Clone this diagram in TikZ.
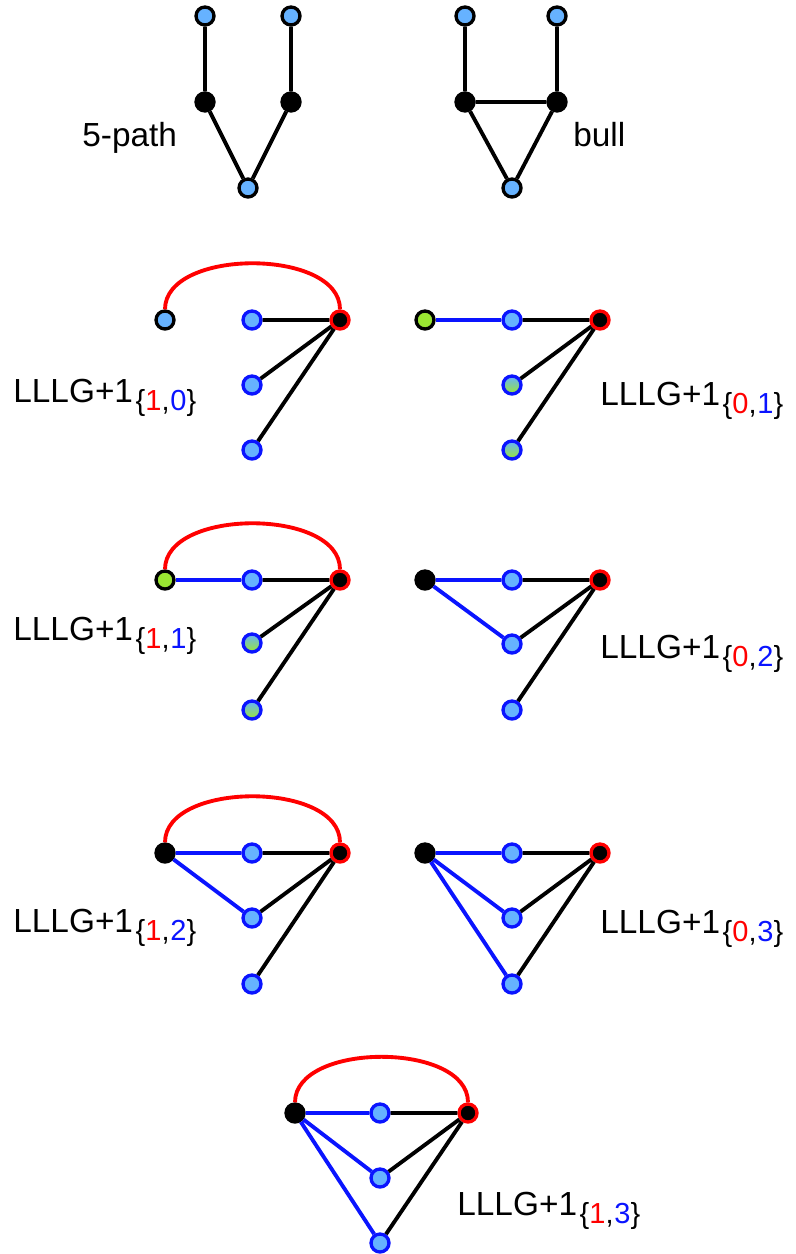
\documentclass[tikz,border=0pt]{standalone}
\usepackage{fontspec}
\setmainfont{Liberation Sans}
\usepackage{tikz}
\usetikzlibrary{positioning}
\usepackage{xcolor}
\definecolor{vblue}{HTML}{66B2FF}
\definecolor{vgreen}{HTML}{9AE632}
\definecolor{ringblue}{HTML}{0A14FF}
\tikzset{
  vtx/.style={circle,draw,line width=1.9pt,inner sep=0pt,minimum size=0.36cm},
  lb/.style={vtx,draw=black,fill=vblue},
  bb/.style={vtx,draw=ringblue,fill=vblue},
  lg/.style={vtx,draw=black,fill=vgreen},
  bg/.style={vtx,draw=ringblue,top color=vblue,bottom color=vgreen},
  blk/.style={vtx,draw=black,fill=black},
  hub/.style={vtx,draw=red,fill=black},
  edge/.style={line width=2.2pt,draw=black},
  bedge/.style={line width=2.2pt,draw=ringblue},
  redge/.style={line width=2.2pt,draw=red,out=90,in=90,looseness=0.9},
  lbl/.style={font=\fontsize{19}{22}\selectfont,anchor=base west,inner sep=0pt}
}
\newcommand{\lllg}[2]{LLLG+1\hspace{1.5pt}\raisebox{-5pt}{\fontsize{16.5}{19}\selectfont\{\textcolor{red}{#1},\hspace{0.5pt}\textcolor{ringblue}{#2}\}}}

\begin{document}
\begin{tikzpicture}[x=0.02cm,y=-0.02cm]
  \useasboundingbox (0,0) rectangle (795,1254);

  \node[lb] (p1) at (205,16) {};
  \node[lb] (p2) at (291,16) {};
  \node[blk] (p3) at (205,102) {};
  \node[blk] (p4) at (291,102) {};
  \node[lb] (p5) at (248,188) {};
  \draw[edge] (p1)--(p3)--(p5)--(p4)--(p2);
  \node[lbl] (path) at (82,146) {5-path};

  \node[lb] (b1) at (465,16) {};
  \node[lb] (b2) at (557,16) {};
  \node[blk] (b3) at (465,102) {};
  \node[blk] (b4) at (557,102) {};
  \node[lb] (b5) at (512,188) {};
  \draw[edge] (b1)--(b3)--(b5)--(b4)--(b2) (b3)--(b4);
  \node[lbl] (bull) at (573,146) {bull};

  \node[lb] (a-l) at (165,320) {};
  \node[bb] (a-m1) at (252,320) {};
  \node[bb] (a-m2) at (252,385) {};
  \node[bb] (a-m3) at (252,450) {};
  \node[hub] (a-h) at (340,320) {};
  \draw[edge] (a-m1)--(a-h) (a-m2)--(a-h) (a-m3)--(a-h);
  \draw[redge] (a-l) to (a-h);
  \node[lbl] (a-t) at (13,402) {\lllg{1}{0}};

  \node[lg] (b-l) at (425,320) {};
  \node[bb] (b-m1) at (512,320) {};
  \node[bg] (b-m2) at (512,385) {};
  \node[bg] (b-m3) at (512,450) {};
  \node[hub] (b-h) at (600,320) {};
  \draw[bedge] (b-l)--(b-m1);
  \draw[edge] (b-m1)--(b-h) (b-m2)--(b-h) (b-m3)--(b-h);
  \node[lbl] (b-t) at (600,405) {\lllg{0}{1}};

  \node[lg] (c-l) at (165,580) {};
  \node[bb] (c-m1) at (252,580) {};
  \node[bg] (c-m2) at (252,643) {};
  \node[bg] (c-m3) at (252,710) {};
  \node[hub] (c-h) at (340,580) {};
  \draw[bedge] (c-l)--(c-m1);
  \draw[edge] (c-m1)--(c-h) (c-m2)--(c-h) (c-m3)--(c-h);
  \draw[redge] (c-l) to (c-h);
  \node[lbl] (c-t) at (13,640) {\lllg{1}{1}};

  \node[blk] (d-l) at (425,580) {};
  \node[bb] (d-m1) at (512,580) {};
  \node[bb] (d-m2) at (512,644) {};
  \node[bb] (d-m3) at (512,710) {};
  \node[hub] (d-h) at (600,580) {};
  \draw[bedge] (d-l)--(d-m1) (d-l)--(d-m2);
  \draw[edge] (d-m1)--(d-h) (d-m2)--(d-h) (d-m3)--(d-h);
  \node[lbl] (d-t) at (600,658) {\lllg{0}{2}};

  \node[blk] (e-l) at (165,853) {};
  \node[bb] (e-m1) at (252,853) {};
  \node[bb] (e-m2) at (252,918) {};
  \node[bb] (e-m3) at (252,984) {};
  \node[hub] (e-h) at (340,853) {};
  \draw[bedge] (e-l)--(e-m1) (e-l)--(e-m2);
  \draw[edge] (e-m1)--(e-h) (e-m2)--(e-h) (e-m3)--(e-h);
  \draw[redge] (e-l) to (e-h);
  \node[lbl] (e-t) at (13,932) {\lllg{1}{2}};

  \node[blk] (f-l) at (425,853) {};
  \node[bb] (f-m1) at (512,853) {};
  \node[bb] (f-m2) at (512,918) {};
  \node[bb] (f-m3) at (512,984) {};
  \node[hub] (f-h) at (600,853) {};
  \draw[bedge] (f-l)--(f-m1) (f-l)--(f-m2) (f-l)--(f-m3);
  \draw[edge] (f-m1)--(f-h) (f-m2)--(f-h) (f-m3)--(f-h);
  \node[lbl] (f-t) at (600,933) {\lllg{0}{3}};

  \node[blk] (g-l) at (295,1113) {};
  \node[bb] (g-m1) at (380,1113) {};
  \node[bb] (g-m2) at (380,1178) {};
  \node[bb] (g-m3) at (380,1243) {};
  \node[hub] (g-h) at (468,1113) {};
  \draw[bedge] (g-l)--(g-m1) (g-l)--(g-m2) (g-l)--(g-m3);
  \draw[edge] (g-m1)--(g-h) (g-m2)--(g-h) (g-m3)--(g-h);
  \draw[redge] (g-l) to (g-h);
  \node[lbl] (g-t) at (457,1215) {\lllg{1}{3}};
\end{tikzpicture}
\end{document}
